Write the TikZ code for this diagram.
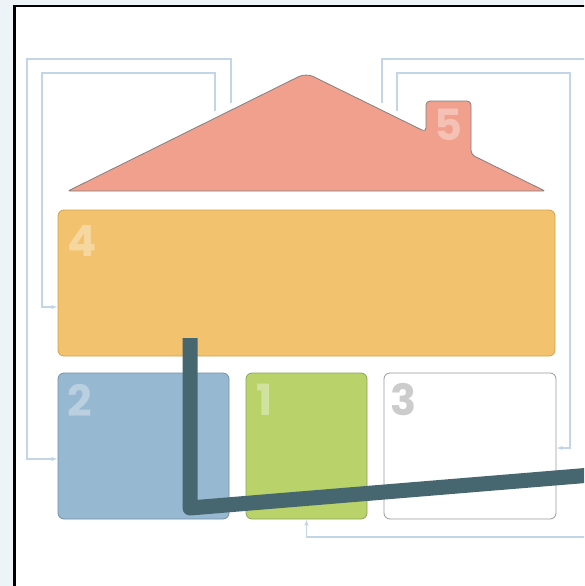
\documentclass[tikz,border=0pt]{standalone}
\usepackage{fontspec}
\newfontfamily\numfont{Poppins}
\usetikzlibrary{arrows.meta,calc}
\definecolor{bgc}{HTML}{EEF3F8}
\definecolor{conncol}{HTML}{C3D6E8}
\definecolor{rooffill}{HTML}{F0A08D}
\definecolor{orangefill}{HTML}{F3C26E}
\definecolor{orangedraw}{HTML}{D6A04E}
\definecolor{bluefill}{HTML}{96B8D1}
\definecolor{bluedraw}{HTML}{7490A8}
\definecolor{greenfill}{HTML}{B9D26A}
\definecolor{greendraw}{HTML}{8EA55A}
\definecolor{darkline}{HTML}{476770}
\tikzset{
  box/.style={draw, rounded corners=6pt, line width=0.8pt, inner sep=0pt, minimum height=146},
  conn/.style={draw=conncol, line width=1.5pt},
  arr/.style={-{Latex[length=6pt,width=4.5pt]}},
  num/.style={text=white, text opacity=0.35, font=\numfont\bfseries\fontsize{43}{43}\selectfont, inner sep=0pt},
}
\begin{document}
\begin{tikzpicture}[x=1pt,y=-1pt]
\useasboundingbox (0,0) rectangle (584,586);
\clip (0,0) rectangle (584,586);
\fill[bgc] (0,0) rectangle (584,586);
\draw[fill=white, line width=2.5pt] (14.5,6) rectangle (640,640);

% boxes
\node[box, fill=orangefill, draw=orangedraw, minimum width=497] (b4) at (306.5,283) {};
\node[box, fill=bluefill, draw=bluedraw, minimum width=171] (b2) at (143.5,446) {};
\node[box, fill=greenfill, draw=greendraw, minimum width=121] (b1) at (306.5,446) {};
\node[box, fill=white, draw=black!40, minimum width=172] (b3) at (470,446) {};

% roof
\draw[fill=rooffill, draw=black!50, line width=0.8pt, rounded corners=2pt]
  (68,191) [rounded corners=8pt] -- (306,73) [rounded corners=4pt] -- (426,132) -- (426,101) -- (471,101) -- (471,154.5) [rounded corners=2pt] -- (545,191) -- cycle;

% roof-side coordinates
\coordinate (rl1) at (231,103);
\coordinate (rl2) at (215,111);
\coordinate (rr1) at (382,103);
\coordinate (rr2) at (397,111);

% connectors
\draw[conn, arr] (rl1) -- (231,59) -- (27,59) |- ($(b2.west)+(0,13)$);
\draw[conn, arr] (rl2) -- (215,73) -- (42,73) |- ($(b4.west)+(0,24)$);
\draw[conn, arr] (rr1) -- (382,59) -- (640,59) -- (640,537) -| (b1.south);
\draw[conn, arr] (rr2) -- (397,73) -- (570,73) |- ($(b3.east)+(0,2)$);

% numbers
\node[num] (n5) at (448,125) {5};
\node[num] (n4) at (82,241) {4};
\node[num] (n2) at (80,400) {2};
\node[num] (n1) at (265,400) {1};
\node[num, text=black!20, text opacity=1] (n3) at (404,400) {3};

% dark line
\draw[darkline, line width=15pt, line join=round] (190,338) -- (190,508) -- (640,471);
\end{tikzpicture}
\end{document}
